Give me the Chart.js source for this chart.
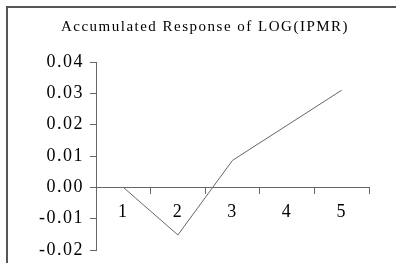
<!DOCTYPE html>
<html>
<head>
<meta charset="utf-8">
<script src="https://cdn.jsdelivr.net/npm/chart.js@4.4.0/dist/chart.umd.min.js"></script>
<style>
  html, body { margin: 0; padding: 0; background: #fff; }
  #wrap { width: 396px; height: 263px; position: relative; }
</style>
</head>
<body>
<div id="wrap"><canvas id="chart"></canvas></div>
<script>
// periods and accumulated response values
const periods = ["1", "2", "3", "4", "5"];
const response = [0.0, -0.0152, 0.0086, 0.0198, 0.0310];
const titleText = "Accumulated Response of LOG(IPMR)";

// frame + spaced serif text like the original
const framePlugin = {
  id: "frame",
  beforeDraw(chart) {
    const ctx = chart.ctx;
    ctx.save();
    ctx.strokeStyle = "#555";
    ctx.lineWidth = 2;
    ctx.beginPath();
    ctx.moveTo(7, chart.height);
    ctx.lineTo(7, 7);
    ctx.lineTo(chart.width, 7);
    ctx.stroke();

    ctx.fillStyle = "#000";
    ctx.font = "15px 'Liberation Serif', serif";
    ctx.letterSpacing = "1.5px";
    ctx.textAlign = "center";
    ctx.textBaseline = "alphabetic";
    ctx.fillText(titleText, 205, 31);
    ctx.restore();
    ctx.letterSpacing = "1.5px";
  }
};

chart = new Chart(document.getElementById("chart"), {
  type: "line",
  data: {
    labels: periods,
    datasets: [{
      data: response,
      borderColor: "#666",
      borderWidth: 1,
      pointRadius: 0,
      tension: 0,
      fill: false
    }]
  },
  options: {
    responsive: true,
    maintainAspectRatio: false,
    animation: false,
    layout: { padding: { top: 62, bottom: 13, left: 0, right: 27 } },
    plugins: { legend: { display: false }, tooltip: { enabled: false } },
    scales: {
      x: {
        position: { y: 0 },
        offset: true,
        afterFit: (s) => { s.paddingLeft = 0; s.paddingRight = 0; },
        grid: { offset: true, drawOnChartArea: false, drawTicks: true, tickLength: 6, color: "#666" },
        border: { color: "#666", width: 1 },
        ticks: { color: "#000", padding: 8, font: { family: "'Liberation Serif', serif", size: 18 } }
      },
      y: {
        min: -0.02,
        max: 0.04,
        afterFit: (s) => { s.width = 96; s.paddingTop = 0; s.paddingBottom = 0; },
        grid: { drawOnChartArea: false, tickLength: 6, color: "#666" },
        border: { color: "#666", width: 1 },
        ticks: {
          stepSize: 0.01,
          color: "#000",
          padding: 6,
          font: { family: "'Liberation Serif', serif", size: 18 },
          callback: (v) => v.toFixed(2)
        }
      }
    }
  },
  plugins: [framePlugin]
});
</script>
</body>
</html>
